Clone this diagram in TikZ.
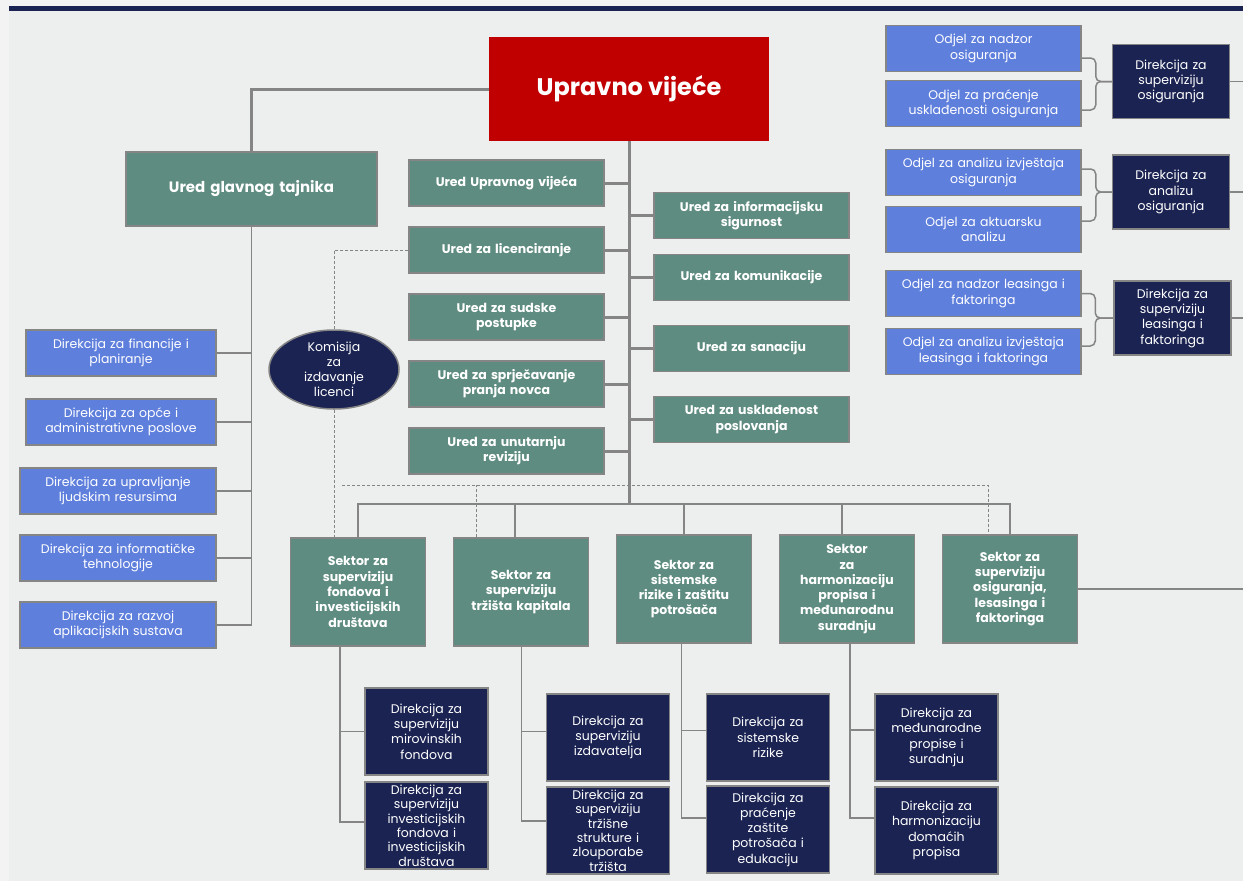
\documentclass[tikz,border=0pt]{standalone}
\usepackage{fontspec}
\setmainfont{Poppins}
\usetikzlibrary{shapes.geometric, positioning}

\definecolor{boardred}{HTML}{C00000}
\definecolor{officegreen}{HTML}{5F8C80}
\definecolor{dirblue}{HTML}{5F7FDC}
\definecolor{navyfill}{HTML}{1B2352}
\definecolor{framegray}{HTML}{858585}
\definecolor{panelbg}{HTML}{EDEFEE}
\definecolor{outerbg}{HTML}{F3F3F3}

\begin{document}
\begin{tikzpicture}[x=1pt, y=-1pt, node distance=19.5pt,
          board/.style={rectangle, fill=boardred, text=white, minimum width=280pt, minimum height=104pt, inner sep=0pt, font=\fontsize{24}{28}\selectfont\bfseries},
          office/.style={rectangle, draw=framegray, line width=1.5pt, fill=officegreen, text=white, align=center, inner sep=0pt, text width=#1, minimum height=46pt, font=\fontsize{12.5}{15.3}\selectfont\bfseries},
          office/.default=195pt,
          sector/.style={office=135pt, minimum height=108pt},
          dirbox/.style={rectangle, draw=framegray, line width=1.5pt, fill=dirblue, text=white, align=center, inner sep=0pt, text width=#1, minimum height=46pt, font=\fontsize{12.5}{15.3}\selectfont},
          dirbox/.default=195pt,
          navybox/.style={dirbox=#1, fill=navyfill, minimum height=87pt},
          navybox/.default=123pt,
          commission/.style={ellipse, draw=framegray, line width=1.5pt, fill=navyfill, text=white, align=center, inner sep=0pt, minimum width=130pt, minimum height=79pt, font=\fontsize{12.5}{15}\selectfont},
          trunk/.style={draw=framegray, line width=3pt},
          link/.style={draw=framegray, line width=1.5pt},
          dashlink/.style={draw=framegray, line width=0.8pt, dash pattern=on 3pt off 2pt}]

        \useasboundingbox (0,0) rectangle (1243,881);
        \fill [outerbg] (0,0) rectangle (1243,881);
        \fill [panelbg] (9,6) rectangle (1243,881);
        \fill [navyfill] (9,6) rectangle (1243,11);

        \node [board] (uv) at (629,89) {Upravno vijeće};
        \node [office=251pt, minimum height=74pt, font=\fontsize{15}{18}\selectfont\bfseries] (ugt) at (251.5,189) {Ured glavnog tajnika};

        \node [office] (u1) at (506.5,183) {Ured Upravnog vijeća};
        \node [office, below=of u1] (u2) {Ured za licenciranje};
        \node [office, below=of u2] (u3) {Ured za sudske\\postupke};
        \node [office, below=of u3] (u4) {Ured za sprječavanje\\pranja novca};
        \node [office, below=of u4] (u5) {Ured za unutarnju\\reviziju};

        \node [office] (r1) at (751.5,215.5) {Ured za informacijsku\\sigurnost};
        \node [office, below=14.5pt of r1] (r2) {Ured za komunikacije};
        \node [office, below=23.5pt of r2] (r3) {Ured za sanaciju};
        \node [office, below=23.5pt of r3] (r4) {Ured za usklađenost\\poslovanja};

        \node [commission] (kom) at (334,369.5) {Komisija\\za\\izdavanje\\licenci};

        \node [dirbox=190pt] (d1) at (121,353) {Direkcija za financije i\\planiranje};
        \node [dirbox=190pt, below=21.5pt of d1] (d2) {Direkcija za opće i\\administrativne poslove};
        \node [dirbox=196pt, below=21.5pt of d2.south east, anchor=north east] (d3) {Direkcija za upravljanje\\ljudskim resursima};
        \node [dirbox=196pt, below=19.5pt of d3] (d4) {Direkcija za informatičke\\tehnologije};
        \node [dirbox=196pt, below=19.5pt of d4] (d5) {Direkcija za razvoj\\aplikacijskih sustava};

        \node [sector] (s1) at (358,592) {Sektor za\\superviziju\\fondova i\\investicijskih\\društava};
        \node [sector, right=26.5pt of s1] (s2) {Sektor za\\superviziju\\tržišta kapitala};
        \node [sector, right=26.5pt of s2, yshift=3pt] (s3) {Sektor za\\sistemske\\rizike i zaštitu\\potrošača};
        \node [sector, right=26.5pt of s3] (s4) {Sektor\\za\\harmonizaciju\\propisa i\\međunarodnu\\suradnju};
        \node [sector, right=26.5pt of s4] (s5) {Sektor za\\superviziju\\osiguranja,\\lesasinga i\\faktoringa};

        \node [navybox] (b1) at (426.5,731.5) {Direkcija za\\superviziju\\mirovinskih\\fondova};
        \node [navybox, below=5.5pt of b1, font=\fontsize{12.5}{14.4}\selectfont] (b2) {Direkcija za\\superviziju\\investicijskih\\fondova i\\investicijskih\\društava};
        \node [navybox] (b3) at (608,737.5) {Direkcija za\\superviziju\\izdavatelja};
        \node [navybox, below=4.5pt of b3, font=\fontsize{12.5}{14.4}\selectfont] (b4) {Direkcija za\\superviziju\\tržišne\\strukture i\\zlouporabe\\tržišta};
        \node [navybox] (b5) at (768,737.5) {Direkcija za\\sistemske\\rizike};
        \node [navybox, below=3.5pt of b5] (b6) {Direkcija za\\praćenje\\zaštite\\potrošača i\\edukaciju};
        \node [navybox] (b7) at (936.5,737.5) {Direkcija za\\međunarodne\\propise i\\suradnju};
        \node [navybox, below=4.5pt of b7] (b8) {Direkcija za\\harmonizaciju\\domaćih\\propisa};

        \node [dirbox] (o1) at (983.5,48.5) {Odjel za nadzor\\osiguranja};
        \node [dirbox, below=7.5pt of o1] (o2) {Odjel za praćenje\\usklađenosti osiguranja};
        \node [dirbox] (o3) at (983.5,172.5) {Odjel za analizu izvještaja\\osiguranja};
        \node [dirbox, below=9.5pt of o3] (o4) {Odjel za aktuarsku\\analizu};
        \node [dirbox] (o5) at (983.5,293.5) {Odjel za nadzor leasinga i\\faktoringa};
        \node [dirbox, below=10.5pt of o5] (o6) {Odjel za analizu izvještaja\\leasinga i faktoringa};

        \node [navybox=117pt, minimum height=74pt] (k1) at (1171,81.5) {Direkcija za\\superviziju\\osiguranja};
        \node [navybox=117pt, minimum height=74pt] (k2) at (1171,192) {Direkcija za\\analizu\\osiguranja};
        \node [navybox=117pt, minimum height=74pt] (k3) at (1172.5,318) {Direkcija za\\superviziju\\leasinga i\\faktoringa};

        \coordinate (bus) at (629,504);
        \coordinate (kd) at (342,485);
        \coordinate (edge) at (1243,0);

        \draw [trunk] (uv.west) -| (ugt.north);
        \draw [trunk] (uv.south) -- (bus);
        \foreach \n in {u1,u2,u3,u4,u5}
          \draw [trunk] (\n.east) -- (\n.east -| uv.south);
        \foreach \n in {r1,r2,r3,r4}
          \draw [trunk] (\n.west) -- (\n.west -| uv.south);

        \draw [link] (ugt.south) |- (d5.east);
        \foreach \n in {d1,d2,d3,d4}
          \draw [link] (\n.east) -- (\n.east -| ugt.south);

        \draw [link] (s1.north) |- (bus) -| (s5.north);
        \foreach \n/\dx in {s2/-6,s3/0,s4/-5}
          \draw [link] ([xshift=\dx pt]\n.north) -- ([xshift=\dx pt]\n.north |- bus);

        \draw [dashlink] (u2.west) -| (kom.north);
        \draw [dashlink] (kom.south) -- (kom.south |- s1.north);
        \draw [dashlink] (kd) -| ([xshift=-22pt]s5.north);
        \draw [dashlink] ([xshift=-45pt]s2.north) -- ([xshift=-45pt]s2.north |- kd);

        \draw [link] ([xshift=-18pt]s1.south) |- (b1.west);
        \draw [link] ([xshift=-18pt]s1.south) |- ([yshift=3.5pt]b2.west);
        \draw [link] ([xshift=0.5pt]s2.south) |- ([yshift=6pt]b3.west);
        \draw [link] ([xshift=0.5pt]s2.south) |- ([yshift=9.5pt]b4.west);
        \draw [link] ([xshift=-2.5pt]s3.south) |- ([yshift=7pt]b5.west);
        \draw [link] ([xshift=-2.5pt]s3.south) |- ([yshift=11.5pt]b6.west);
        \draw [link] ([xshift=3pt]s4.south) |- ([yshift=7.5pt]b7.west);
        \draw [link] ([xshift=3pt]s4.south) |- ([yshift=12.5pt]b8.west);

        \draw [link, rounded corners=5pt] ([yshift=-9.5pt]o1.east) -| ([xshift=-16pt]k1.west) -- (k1.west);
        \draw [link, rounded corners=5pt] ([yshift=-6.5pt]o2.east) -| ([xshift=-16pt]k1.west) -- (k1.west);
        \draw [link, rounded corners=5pt] ([yshift=3.5pt]o3.east) -| ([xshift=-16pt]k2.west) -- (k2.west);
        \draw [link, rounded corners=5pt] ([yshift=8.5pt]o4.east) -| ([xshift=-16pt]k2.west) -- (k2.west);
        \draw [link, rounded corners=5pt] (o5.east) -| ([xshift=-18pt]k3.west) -- (k3.west);
        \draw [link, rounded corners=5pt] ([yshift=5.5pt]o6.east) -| ([xshift=-18pt]k3.west) -- (k3.west);

        \foreach \n in {k1,k2,k3,s5}
          \draw [link] (\n.east) -- (\n.east -| edge);
      \end{tikzpicture}
\end{document}
